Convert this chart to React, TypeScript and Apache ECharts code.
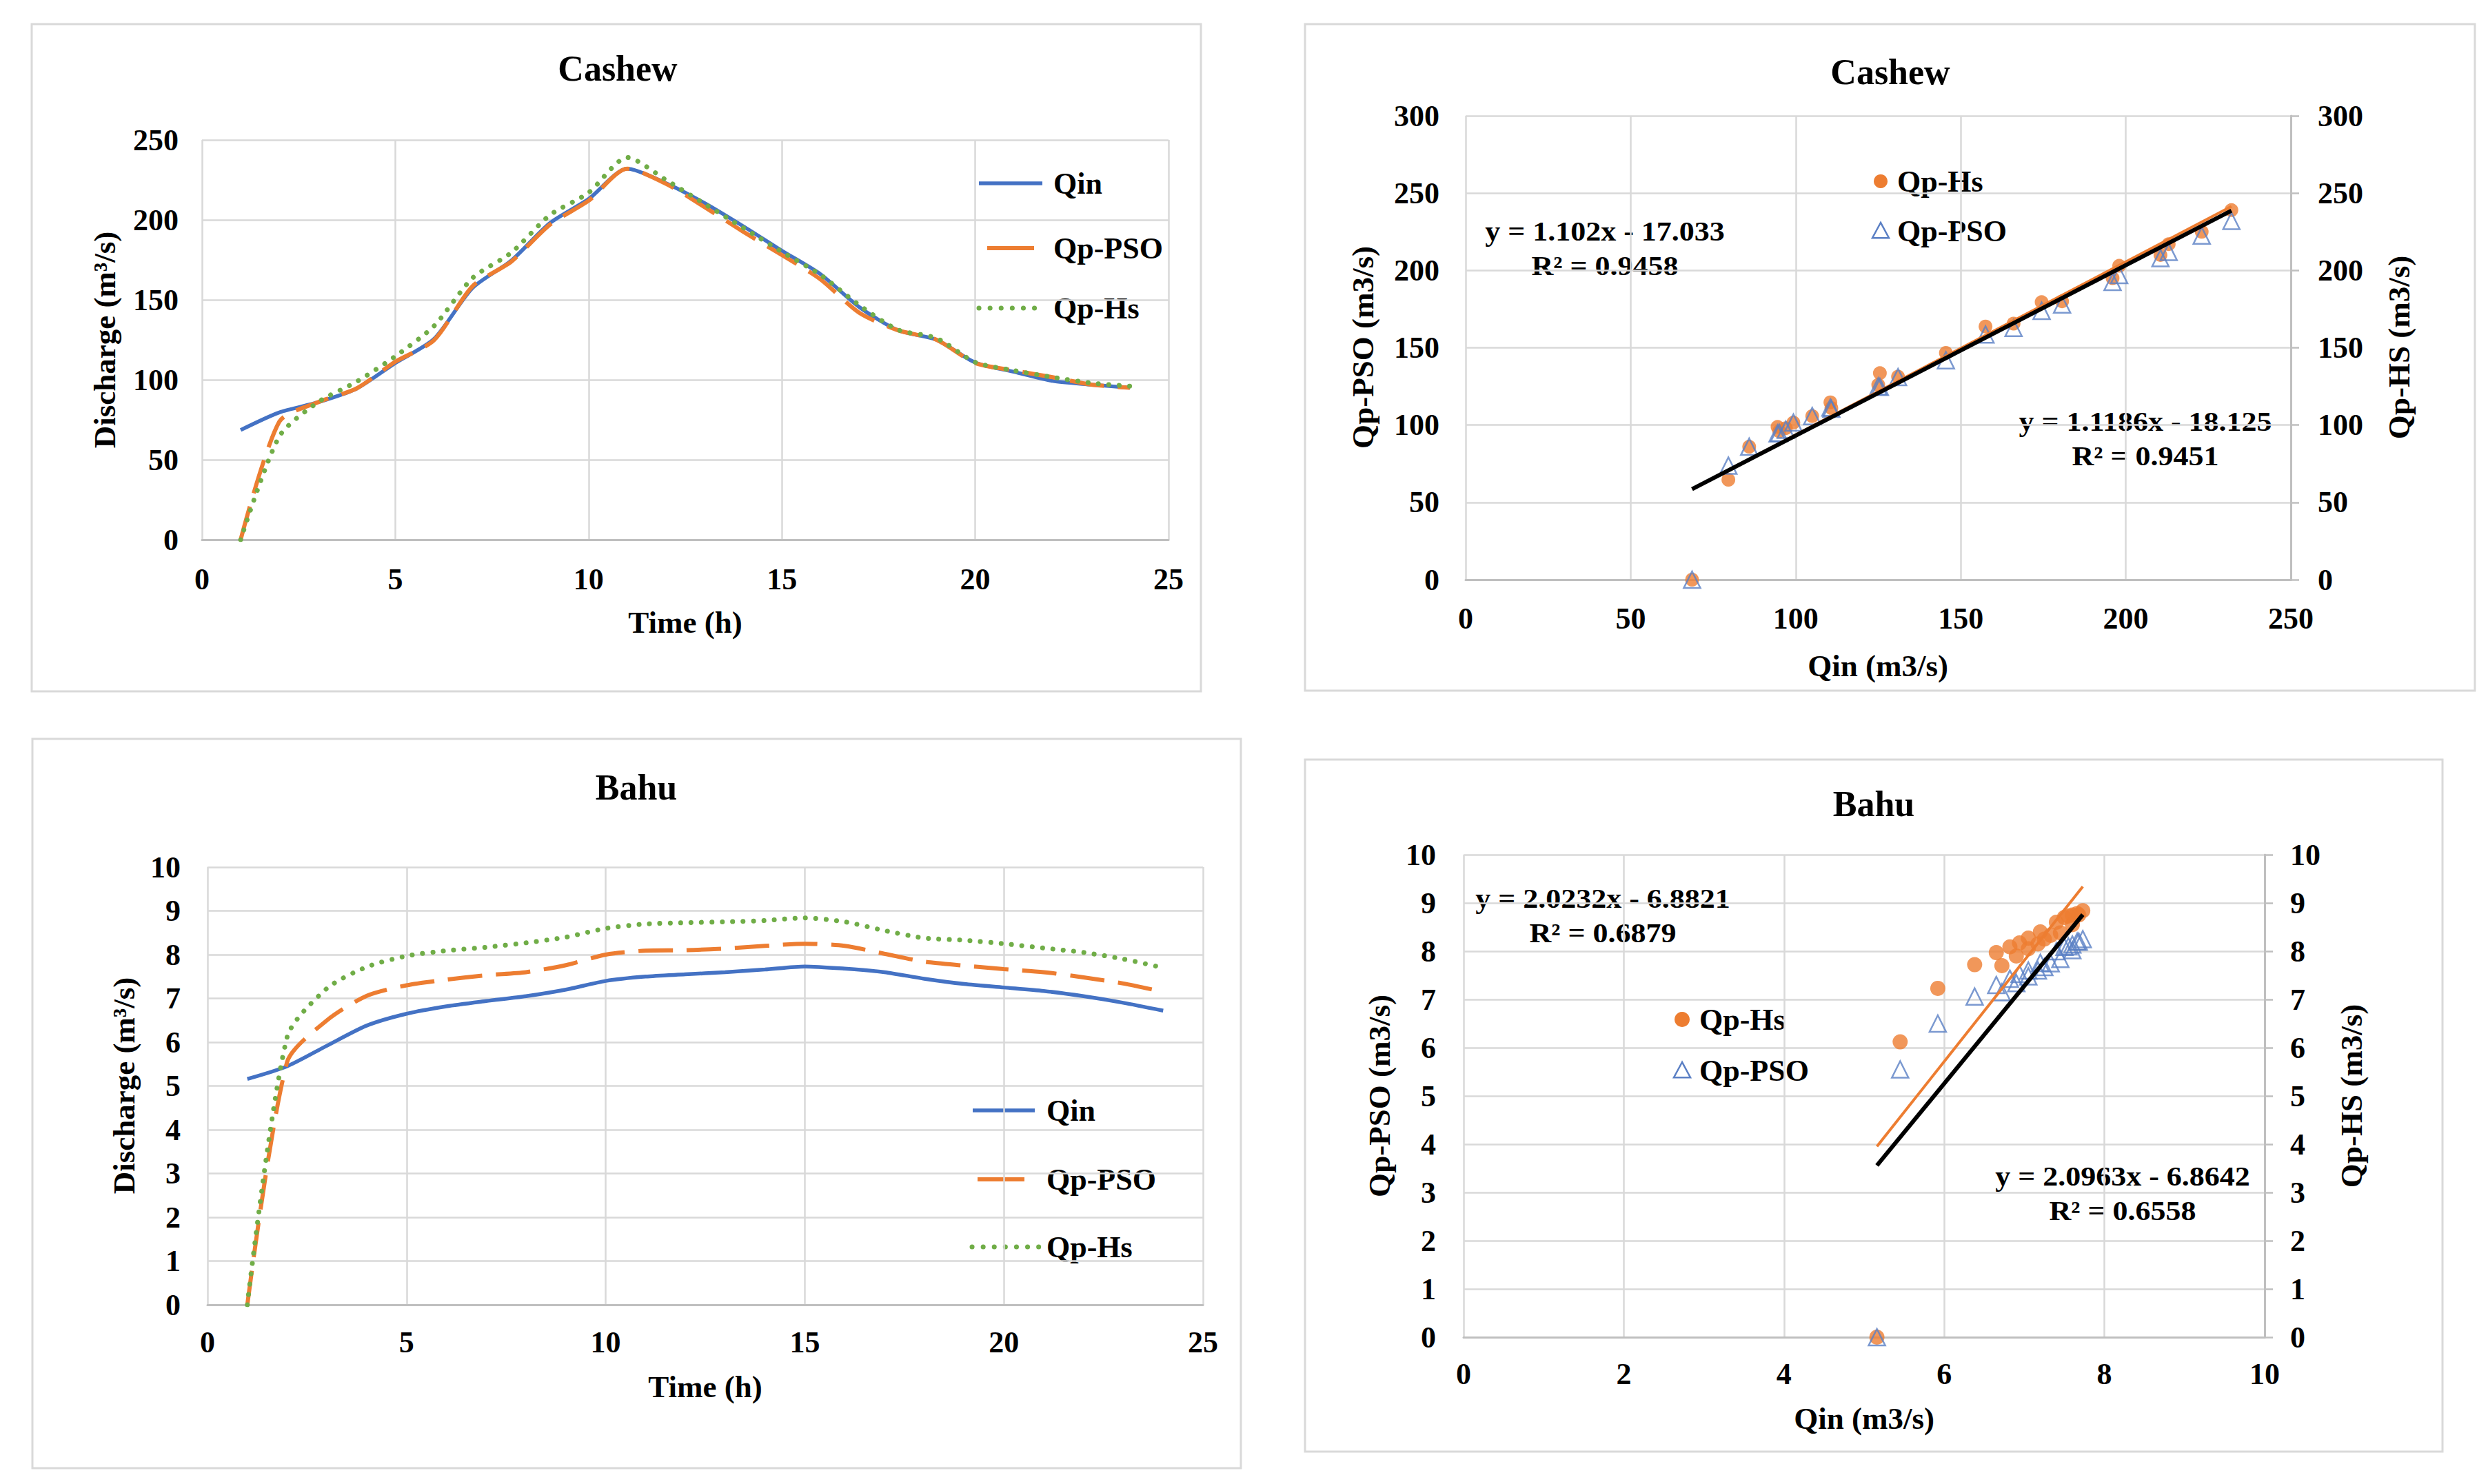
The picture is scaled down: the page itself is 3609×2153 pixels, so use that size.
import React, { useEffect, useRef } from "react";
import * as echarts from "echarts";

// ---------------- data ----------------
const HOURS = [1, 2, 3, 4, 5, 6, 7, 8, 9, 10, 11, 12, 13, 14, 15, 16, 17, 18, 19, 20, 21, 22, 23, 24];

const CASHEW_QIN = [68.6, 79.6, 85.9, 94.5, 110.5, 125.5, 157.5, 174.5, 198, 213, 232, 223, 210.5, 196, 180.7, 166, 145.5, 131, 125, 110.8, 105, 99.3, 97, 95];
const CASHEW_PSO = [0, 73.8, 86, 94.6, 111.3, 124.7, 158.6, 173.9, 197, 212, 232, 222.6, 208, 192.6, 178, 162.8, 141.9, 131, 125, 110.5, 105.8, 101.6, 97, 95];
const CASHEW_HS = [0, 64.6, 86, 98.8, 114.7, 133.6, 163.7, 179.5, 203, 217, 239, 225, 210, 195, 180, 165.6, 146.7, 131.3, 126, 111, 105.8, 101.6, 98, 96];

const BAHU_QIN = [5.16, 5.45, 5.92, 6.38, 6.65, 6.82, 6.94, 7.05, 7.2, 7.4, 7.5, 7.55, 7.6, 7.66, 7.73, 7.68, 7.6, 7.45, 7.33, 7.25, 7.17, 7.05, 6.9, 6.72];
const BAHU_PSO = [0, 5.55, 6.5, 7.06, 7.3, 7.43, 7.53, 7.6, 7.76, 8.0, 8.09, 8.1, 8.14, 8.2, 8.25, 8.2, 8.02, 7.84, 7.75, 7.67, 7.6, 7.48, 7.34, 7.15];
const BAHU_HS = [0, 6.12, 7.23, 7.72, 7.97, 8.09, 8.17, 8.27, 8.4, 8.6, 8.7, 8.73, 8.75, 8.78, 8.84, 8.75, 8.55, 8.38, 8.33, 8.25, 8.15, 8.05, 7.9, 7.7];

// trendline [slope, intercept] and labels
const CASHEW_TREND_PSO = [1.102, -17.033];
const CASHEW_TREND_HS = [1.1186, -18.125];
const BAHU_TREND_PSO = [2.0232, -6.8821];
const BAHU_TREND_HS = [2.0963, -6.8642];
const CASHEW_EQ_PSO = ["y = 1.102x - 17.033", "R² = 0.9458"];
const CASHEW_EQ_HS = ["y = 1.1186x - 18.125", "R² = 0.9451"];
const BAHU_EQ_PSO = ["y = 2.0232x - 6.8821", "R² = 0.6879"];
const BAHU_EQ_HS = ["y = 2.0963x - 6.8642", "R² = 0.6558"];

// tick labels
const HYDRO_X_TICKS = [0, 5, 10, 15, 20, 25];
const CASHEW_Y_TICKS = [0, 50, 100, 150, 200, 250];
const CASHEW_SC_X_TICKS = [0, 50, 100, 150, 200, 250];
const CASHEW_SC_Y_TICKS = [0, 50, 100, 150, 200, 250, 300];
const BAHU_Y_TICKS = [0, 1, 2, 3, 4, 5, 6, 7, 8, 9, 10];
const BAHU_SC_X_TICKS = [0, 2, 4, 6, 8, 10];

// ---------------- styles ----------------
const FONT = '"Liberation Serif", "Times New Roman", serif';
const BLUE = "#4472C4";
const ORANGE = "#ED7D31";
const GREEN = "#70AD47";
const TRI = "#5a7fc4";
const GRID_C = "#d9d9d9";
const AXIS_C = "#bfbfbf";

function range(t: number[]) {
  return { min: t[0], max: t[t.length - 1], interval: t[1] - t[0] };
}

function xAx(grid: number, ticks: number[], margin: number) {
  return {
    type: "value",
    gridIndex: grid,
    ...range(ticks),
    axisLine: { show: true, onZero: false, lineStyle: { color: AXIS_C, width: 3 } },
    axisTick: { show: false },
    splitLine: { show: true, lineStyle: { color: GRID_C, width: 2.5 } },
    axisLabel: { fontFamily: FONT, fontSize: 44, fontWeight: "bold", color: "#000", margin },
  };
}

function yAx(grid: number, ticks: number[], margin: number, right = false) {
  return {
    type: "value",
    gridIndex: grid,
    position: right ? "right" : "left",
    ...range(ticks),
    axisLine: { show: right, lineStyle: { color: AXIS_C, width: 3 } },
    axisTick: { show: right, length: 12, inside: false, lineStyle: { color: AXIS_C, width: 2.5 } },
    splitLine: { show: !right, lineStyle: { color: GRID_C, width: 2.5 } },
    axisLabel: { fontFamily: FONT, fontSize: 44, fontWeight: "bold", color: "#000", margin },
  };
}

function hydroSeries(xi: number, yi: number, qin: number[], pso: number[], hs: number[]) {
  const pairs = (a: number[]) => HOURS.map((t, i) => [t, a[i]]);
  const sm = 0.25;
  return [
    { name: "Qin", type: "line", xAxisIndex: xi, yAxisIndex: yi, data: pairs(qin), symbol: "none", smooth: sm, lineStyle: { color: BLUE, width: 5.5 }, z: 2 },
    { name: "Qp-PSO", type: "line", xAxisIndex: xi, yAxisIndex: yi, data: pairs(pso), symbol: "none", smooth: sm, lineStyle: { color: ORANGE, width: 6, type: [50, 20] }, z: 3 },
    { name: "Qp-Hs", type: "line", xAxisIndex: xi, yAxisIndex: yi, data: pairs(hs), symbol: "none", smooth: sm, lineStyle: { color: GREEN, width: 7, type: [0.1, 15], cap: "round" }, z: 4 },
  ];
}

function trendData(qin: number[], coef: number[]) {
  const lo = Math.min(...qin);
  const hi = Math.max(...qin);
  return [
    [lo, coef[0] * lo + coef[1]],
    [hi, coef[0] * hi + coef[1]],
  ];
}

function scatterSeries(
  xi: number, yLeft: number, yRight: number,
  qin: number[], pso: number[], hs: number[],
  trPso: number[], trHs: number[], circ: number, tri: number
) {
  return [
    { name: "Qp-Hs", type: "scatter", xAxisIndex: xi, yAxisIndex: yRight, data: qin.map((q, i) => [q, hs[i]]), symbol: "circle", symbolSize: circ, itemStyle: { color: ORANGE }, z: 2 },
    { name: "Qp-PSO", type: "scatter", xAxisIndex: xi, yAxisIndex: yLeft, data: qin.map((q, i) => [q, pso[i]]), symbol: "triangle", symbolSize: tri, itemStyle: { color: "rgba(255,255,255,0)", borderColor: TRI, borderWidth: 2.5 }, z: 3 },
    { name: "Trend Hs", type: "line", xAxisIndex: xi, yAxisIndex: yRight, data: trendData(qin, trHs), symbol: "none", lineStyle: { color: ORANGE, width: 4 }, z: 4 },
    { name: "Trend PSO", type: "line", xAxisIndex: xi, yAxisIndex: yLeft, data: trendData(qin, trPso), symbol: "none", lineStyle: { color: "#000", width: 6 }, z: 5 },
  ];
}

// ---------------- graphic helpers ----------------
function txt(text: string, x: number, y: number, size: number, align = "center", extra: any = {}) {
  return {
    type: "text", x, y, ...extra,
    style: { text, font: `bold ${size}px ${FONT}`, fill: "#000", textAlign: align, textVerticalAlign: "middle" },
  };
}
function vtxt(text: string, x: number, y: number) {
  return txt(text, x, y, 45, "center", { rotation: Math.PI / 2 });
}
function panel(x: number, y: number, w: number, h: number) {
  return { type: "rect", shape: { x, y, width: w, height: h }, style: { fill: "rgba(0,0,0,0)", stroke: GRID_C, lineWidth: 3 } };
}
function legLine(x1: number, x2: number, y: number, kind: string) {
  const style: any = { stroke: BLUE, lineWidth: 5.5 };
  if (kind === "pso") { style.stroke = ORANGE; style.lineWidth = 6; }
  if (kind === "hs") { style.stroke = GREEN; style.lineWidth = 7; style.lineDash = [0.1, 16]; style.lineCap = "round"; }
  return { type: "line", shape: { x1, y1: y, x2, y2: y }, style };
}
function legCircle(x: number, y: number, r: number) {
  return { type: "circle", shape: { cx: x, cy: y, r }, style: { fill: ORANGE } };
}
function legTri(x: number, y: number, s: number) {
  return {
    type: "polygon",
    shape: { points: [[x, y - s], [x - s, y + s * 0.85], [x + s, y + s * 0.85]] },
    style: { fill: "rgba(0,0,0,0)", stroke: TRI, lineWidth: 2.5 },
  };
}
function eq(lines: string[], x: number, y: number) {
  return [
    txt(lines[0], x, y, 40, "center", { scaleX: 1.1 }),
    txt(lines[1], x, y + 50, 40, "center", { scaleX: 1.1 }),
  ];
}

function buildOption() {
  return {
    animation: false,
    backgroundColor: "#ffffff",
    grid: [
      { left: 293, top: 203, width: 1402, height: 580, outerBoundsMode: "none" },
      { left: 2126, top: 168, width: 1197, height: 673, outerBoundsMode: "none" },
      { left: 301, top: 1258, width: 1444, height: 635, outerBoundsMode: "none" },
      { left: 2123, top: 1240, width: 1162, height: 700, outerBoundsMode: "none" },
    ],
    xAxis: [
      xAx(0, HYDRO_X_TICKS, 35),
      xAx(1, CASHEW_SC_X_TICKS, 34),
      xAx(2, HYDRO_X_TICKS, 32),
      xAx(3, BAHU_SC_X_TICKS, 31),
    ],
    yAxis: [
      yAx(0, CASHEW_Y_TICKS, 34),
      yAx(1, CASHEW_SC_Y_TICKS, 38),
      yAx(1, CASHEW_SC_Y_TICKS, 39, true),
      yAx(2, BAHU_Y_TICKS, 39),
      yAx(3, BAHU_Y_TICKS, 40),
      yAx(3, BAHU_Y_TICKS, 37, true),
    ],
    series: [
      ...hydroSeries(0, 0, CASHEW_QIN, CASHEW_PSO, CASHEW_HS),
      ...scatterSeries(1, 1, 2, CASHEW_QIN, CASHEW_PSO, CASHEW_HS, CASHEW_TREND_PSO, CASHEW_TREND_HS, 20, 24),
      ...hydroSeries(2, 3, BAHU_QIN, BAHU_PSO, BAHU_HS),
      ...scatterSeries(3, 4, 5, BAHU_QIN, BAHU_PSO, BAHU_HS, BAHU_TREND_PSO, BAHU_TREND_HS, 22, 24),
    ],
    graphic: {
      elements: [
        panel(46, 35, 1696, 968),
        panel(1893, 35, 1697, 967),
        panel(47, 1072, 1753, 1058),
        panel(1893, 1102, 1650, 1004),

        txt("Cashew", 896, 99, 52),
        txt("Cashew", 2742, 104, 52),
        txt("Bahu", 923, 1142, 52),
        txt("Bahu", 2718, 1166, 52),

        txt("Time (h)", 994, 903, 45),
        vtxt("Discharge (m³/s)", 152, 493),
        txt("Qin (m3/s)", 2724, 966, 45),
        vtxt("Qp-PSO (m3/s)", 1977, 504),
        vtxt("Qp-HS (m3/s)", 3480, 504),
        txt("Time (h)", 1023, 2012, 45),
        vtxt("Discharge (m³/s)", 180, 1575),
        txt("Qin (m3/s)", 2704, 2058, 45),
        vtxt("Qp-PSO (m3/s)", 2001, 1590),
        vtxt("Qp-HS (m3/s)", 3411, 1590),

        legLine(1420, 1512, 266, "qin"), txt("Qin", 1528, 266, 44, "left"),
        legLine(1432, 1500, 360, "pso"), txt("Qp-PSO", 1528, 360, 44, "left"),
        legLine(1420, 1512, 447, "hs"), txt("Qp-Hs", 1528, 447, 44, "left"),

        legLine(1411, 1501, 1611, "qin"), txt("Qin", 1518, 1611, 44, "left"),
        legLine(1418, 1486, 1711, "pso"), txt("Qp-PSO", 1518, 1711, 44, "left"),
        legLine(1410, 1508, 1809, "hs"), txt("Qp-Hs", 1518, 1809, 44, "left"),

        legCircle(2728, 263, 10), txt("Qp-Hs", 2752, 263, 44, "left"),
        legTri(2728, 335, 12), txt("Qp-PSO", 2752, 335, 44, "left"),
        legCircle(2440, 1479, 11), txt("Qp-Hs", 2465, 1479, 44, "left"),
        legTri(2440, 1553, 12), txt("Qp-PSO", 2465, 1553, 44, "left"),

        ...eq(CASHEW_EQ_PSO, 2328, 336),
        ...eq(CASHEW_EQ_HS, 3112, 612),
        ...eq(BAHU_EQ_PSO, 2325, 1304),
        ...eq(BAHU_EQ_HS, 3079, 1707),
      ],
    },
  };
}

export default function App() {
  const ref = useRef<HTMLDivElement>(null);
  useEffect(() => {
    document.body.style.margin = "0";
    const el = ref.current;
    if (!el) return;
    const chart = echarts.init(el, null, { renderer: "svg", width: 3609, height: 2153 });
    chart.setOption(buildOption() as any);
    return () => chart.dispose();
  }, []);
  return (
    <div
      ref={ref}
      style={{ position: "absolute", left: 0, top: 0, width: 3609, height: 2153, background: "#ffffff" }}
    />
  );
}
